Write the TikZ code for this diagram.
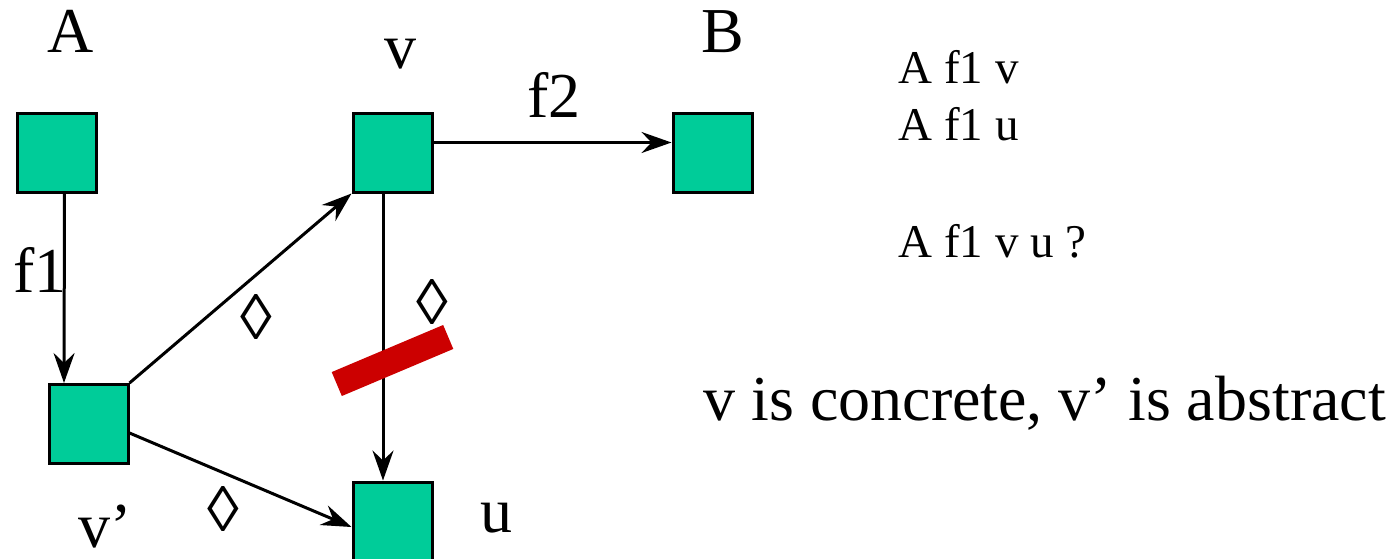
\documentclass[tikz,border=0pt]{standalone}
\usepackage{fontspec}
\setmainfont{Liberation Serif}
\newfontfamily\timesish{Liberation Serif}
\usetikzlibrary{arrows.meta}
\definecolor{boxgreen}{HTML}{00CC99}
\definecolor{barred}{HTML}{CC0000}

\begin{document}
\begin{tikzpicture}[x=1pt, y=-1pt, line width=3pt,
    vbox/.style={draw, fill=boxgreen, minimum size=79pt, inner sep=0pt},
    lbl/.style={inner sep=0pt, font=\timesish\fontsize{64}{70}\selectfont},
    note/.style={inner sep=0pt, anchor=base west, font=\timesish\fontsize{47}{52}\selectfont},
    arr/.style={-{Stealth[length=30pt, width=21pt, inset=10pt]}}]
  \useasboundingbox (0,0) rectangle (1400,558);
  % the five vertices
  \node[vbox] (boxA) at (56.5,152.5) {};
  \node[vbox] (boxV) at (392.5,152.5) {};
  \node[vbox] (boxB) at (712.5,152.5) {};
  \node[vbox] (boxVp) at (88.5,424) {};
  \node[vbox] (boxU) at (392.5,521.5) {};
  % names
  \node[lbl, anchor=base] (labA) at (71,52) {A};
  \node[lbl, anchor=base] (labV) at (400,68) {v};
  \node[lbl, anchor=base] (labB) at (723,52) {B};
  \node[lbl, anchor=base] (labVp) at (105,547) {v’};
  \node[lbl, anchor=base] (labU) at (496,532) {u};
  % edges
  \draw[arr] ([xshift=8pt]boxA.south) -- ([xshift=-24.5pt]boxVp.north);
  \node[lbl, anchor=base] (labF1) at (40,292) {f1};
  \draw[arr] ([yshift=10pt]boxV.east) -- ([yshift=10pt]boxB.west);
  \node[lbl, anchor=base] (labF2) at (554,117) {f2};
  \draw[arr] (boxVp.north east) -- (boxV.south west);
  \draw[arr] ([yshift=-9pt]boxVp.east) -- ([yshift=-5.5pt]boxU.west);
  \draw[arr] ([xshift=-9.5pt]boxV.south) -- ([xshift=-9.5pt]boxU.north);
  % possibly-markers and the cut
  \node[lbl] (dia1) at (256,317) {◊};
  \node[lbl] (dia2) at (432,302) {◊};
  \node[lbl] (dia3) at (223,509) {◊};
  \node[fill=barred, draw=none, rotate=22.9, minimum width=121pt,
    minimum height=26pt, inner sep=0pt] (bar) at (392.5,360.5) {};
  % notes on the right
  \node[note] (n1) at (897,83) {A f1 v};
  \node[note] (n2) at (897,140) {A f1 u};
  \node[note] (n3) at (897,257) {A f1 v u ?};
  \node[lbl, anchor=base west] (claim) at (702,420) {v is concrete, v’ is abstract};
\end{tikzpicture}
\end{document}
